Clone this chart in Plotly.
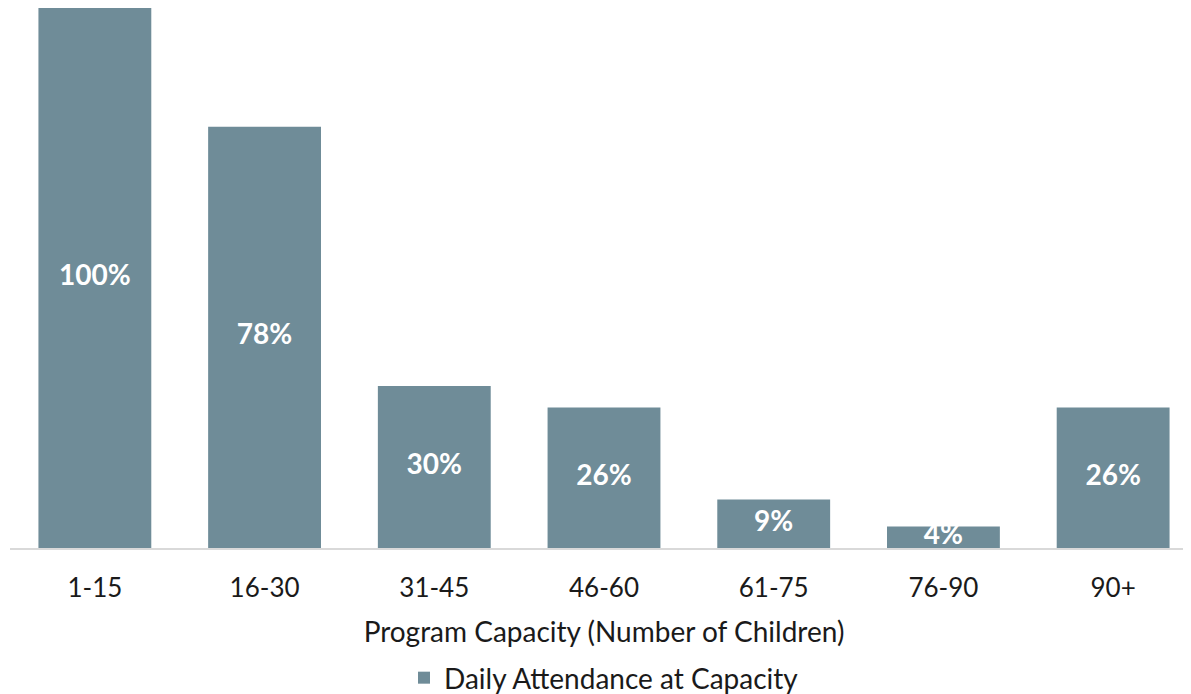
import plotly.graph_objects as go

categories = ["1-15", "16-30", "31-45", "46-60", "61-75", "76-90", "90+"]
values = [100, 78, 30, 26, 9, 4, 26]
labels = ["100%", "78%", "30%", "26%", "9%", "4%", "26%"]
series_name = "Daily Attendance at Capacity"
x_title = "Program Capacity (Number of Children)"

BAR = "#6f8c98"
FONT = "Lato, 'Source Sans Pro', 'Noto Sans', sans-serif"

fig = go.Figure()
fig.add_trace(go.Bar(
    x=categories, y=values, name=series_name,
    marker=dict(color=BAR, line=dict(width=0)),
    hoverinfo="skip",
))
fig.add_trace(go.Scatter(
    x=categories, y=[v / 2 for v in values], text=labels,
    mode="text", textposition="middle center",
    textfont=dict(color="white", size=28, family=FONT, weight="bold"),
    cliponaxis=True, showlegend=False, hoverinfo="skip",
))

fig.update_layout(
    width=1191, height=694,
    margin=dict(l=2, r=1, t=0, b=154, autoexpand=False),
    paper_bgcolor="white", plot_bgcolor="white",
    bargap=0.335,
    font=dict(family=FONT, color="#1a1a1a"),
    showlegend=True,
    legend=dict(orientation="h", x=0.5, xanchor="center", y=-0.2407, yanchor="middle",
                font=dict(size=28, color="#1a1a1a"), itemwidth=30),
    xaxis=dict(
        showgrid=False, showline=True, linecolor="#d9d9d9", linewidth=2,
        ticks="", tickfont=dict(size=26, color="#1a1a1a"), ticklabelstandoff=16,
        automargin=False,
        title=dict(text=x_title, font=dict(size=28, color="#1a1a1a"), standoff=20),
    ),
    yaxis=dict(range=[0, 100], visible=False, showgrid=False, automargin=False),
)

fig.write_html("out.html")
